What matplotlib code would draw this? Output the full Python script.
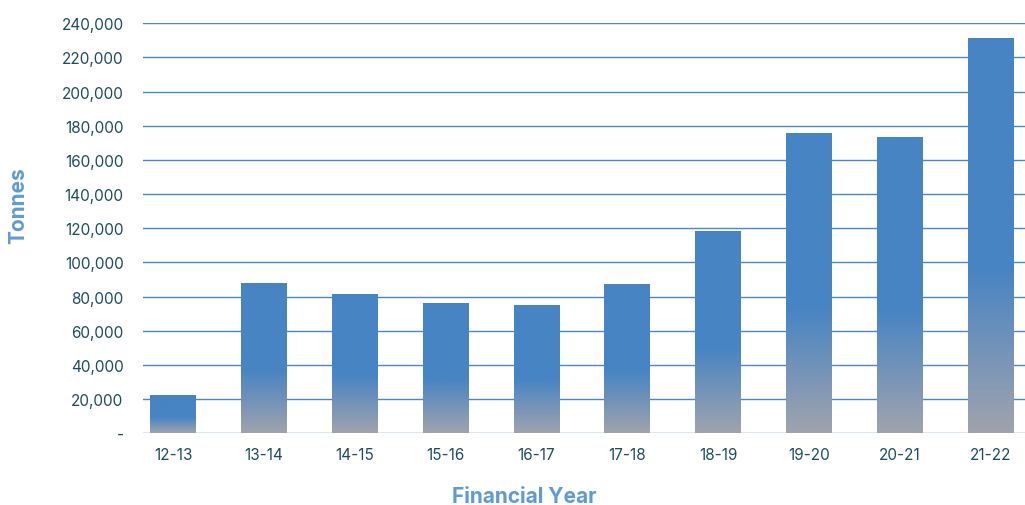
import numpy as np
import matplotlib.pyplot as plt
from matplotlib.colors import LinearSegmentedColormap
from matplotlib.ticker import FuncFormatter

plt.rcParams['font.family'] = ['Inter', 'DejaVu Sans']

years = ['12-13', '13-14', '14-15', '15-16', '16-17', '17-18', '18-19', '19-20', '20-21', '21-22']
tonnes = [21800, 87400, 81000, 75800, 74500, 86800, 118000, 175500, 173200, 231200]

blue = '#4784c4'
grey = '#a0a3ad'
grid_col = '#4a86c8'
text_col = '#1d4d5e'
label_col = '#5f9ad8'

fig = plt.figure(figsize=(10.25, 5.06), dpi=100)
ax = fig.add_axes([0.1395, 0.142, 0.861, 0.81])

# vertical gradient: grey at bottom, full blue from ~42% of the bar height up
cmap = LinearSegmentedColormap.from_list('bar', [(0, grey), (0.42, blue), (1, blue)])
grad = np.linspace(0, 1, 256).reshape(-1, 1)
width = 0.5
for i, v in enumerate(tonnes):
    ax.imshow(grad, cmap=cmap, origin='lower', aspect='auto',
              extent=[i - width / 2, i + width / 2, 0, v], zorder=3)

ax.set_xlim(-0.33, 9.385)
ax.set_ylim(0, 240000)
ax.set_yticks(np.arange(0, 240001, 20000))
ax.yaxis.set_major_formatter(FuncFormatter(lambda y, p: '-' if y == 0 else f'{int(y):,}'))
ax.set_xticks(range(len(years)))
ax.set_xticklabels(years)

ax.grid(axis='y', color=grid_col, linewidth=1.0, zorder=1)
ax.set_axisbelow(True)
for s in ax.spines.values():
    s.set_visible(False)
ax.tick_params(length=0, labelsize=11, labelcolor=text_col)
ax.tick_params(axis='y', pad=14)
ax.tick_params(axis='x', pad=10)

fig.text(0.018, 0.593, 'Tonnes', rotation=90, ha='center', va='center',
         fontsize=15, fontweight='bold', color=label_col)
fig.text(0.512, 0.018, 'Financial Year', ha='center', va='center',
         fontsize=15, fontweight='bold', color=label_col)

fig.savefig('out.png')
